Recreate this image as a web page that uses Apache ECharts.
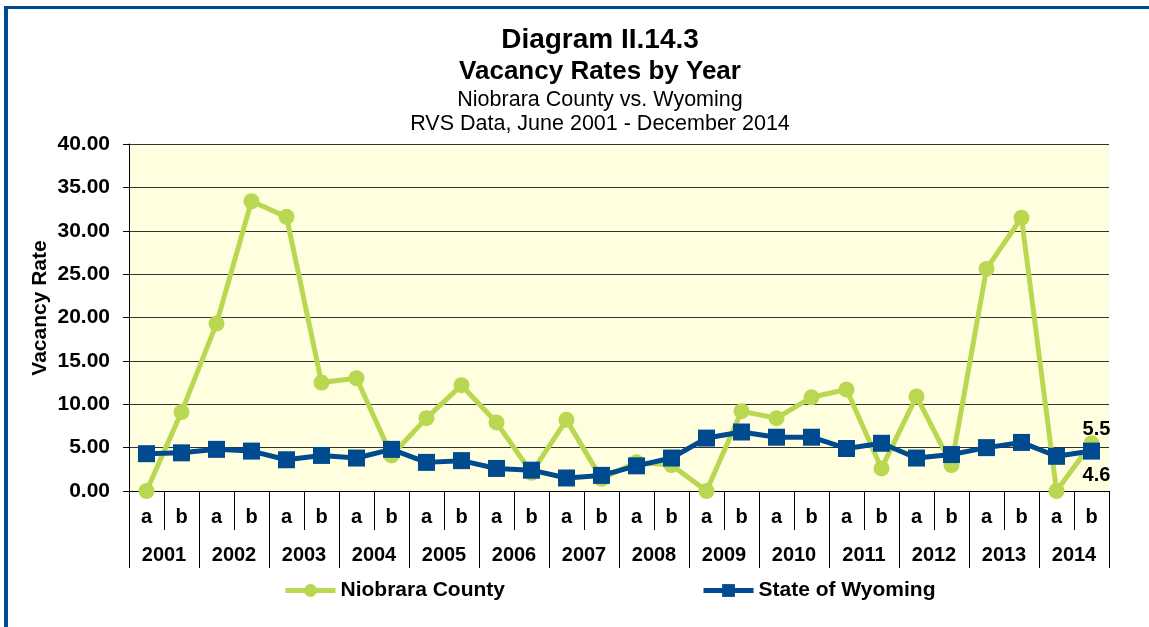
<!DOCTYPE html>
<html>
<head>
<meta charset="utf-8">
<script src="https://cdn.jsdelivr.net/npm/echarts@6/dist/echarts.min.js"></script>
<style>
  html, body { margin: 0; padding: 0; background: #fff; }
  #main { width: 1149px; height: 627px; }
</style>
</head>
<body>
<div id="main"></div>
<script>
// half-year categories, a/b per year
var halves = ['a','b','a','b','a','b','a','b','a','b','a','b','a','b',
              'a','b','a','b','a','b','a','b','a','b','a','b','a','b'];
var years = ['2001','2002','2003','2004','2005','2006','2007',
             '2008','2009','2010','2011','2012','2013','2014'];
var yTicks = [0, 5, 10, 15, 20, 25, 30, 35, 40];

var niobrara = [0.0, 9.1, 19.3, 33.4, 31.6, 12.5, 13.0, 4.1, 8.4, 12.2, 7.9, 2.1, 8.2, 1.4,
                3.3, 3.0, 0.0, 9.2, 8.4, 10.8, 11.7, 2.6, 10.9, 3.0, 25.6, 31.5, 0.0, 5.5];
var wyoming  = [4.3, 4.4, 4.8, 4.6, 3.6, 4.1, 3.8, 4.8, 3.3, 3.5, 2.6, 2.4, 1.5, 1.8,
                2.9, 3.8, 6.1, 6.8, 6.2, 6.2, 4.9, 5.5, 3.8, 4.2, 5.0, 5.6, 4.0, 4.6];

var green = '#B9D750';
var blue = '#004A8F';
var font = 'Arial, "Liberation Sans", sans-serif';

var chart = echarts.init(document.getElementById('main'));

function lastOnly(p) {
  return p.dataIndex === halves.length - 1 ? String(p.value) : '';
}

var option = {
  animation: false,
  textStyle: { fontFamily: font },
  graphic: [
    { type: 'rect', shape: { x: 4, y: 6, width: 1145, height: 3 }, style: { fill: blue } },
    { type: 'rect', shape: { x: 4, y: 6, width: 4, height: 621 }, style: { fill: blue } },
    { type: 'text', x: 600, y: 40, style: { text: 'Diagram II.14.3', fontSize: 28, fontWeight: 'bold', fontFamily: font, fill: '#000', align: 'center', verticalAlign: 'middle' } },
    { type: 'text', x: 600, y: 72, style: { text: 'Vacancy Rates by Year', fontSize: 26, fontWeight: 'bold', fontFamily: font, fill: '#000', align: 'center', verticalAlign: 'middle' } },
    { type: 'text', x: 600, y: 100, style: { text: 'Niobrara County vs. Wyoming', fontSize: 21.5, fontFamily: font, fill: '#000', align: 'center', verticalAlign: 'middle' } },
    { type: 'text', x: 600, y: 124, style: { text: 'RVS Data, June 2001 - December 2014', fontSize: 21.5, fontFamily: font, fill: '#000', align: 'center', verticalAlign: 'middle' } },
    { type: 'text', x: 40, y: 308, rotation: Math.PI / 2, style: { text: 'Vacancy Rate', fontSize: 21, fontWeight: 'bold', fontFamily: font, fill: '#000', align: 'center', verticalAlign: 'middle' } }
  ],
  legend: {
    left: 283,
    top: 580,
    padding: 0,
    itemWidth: 50,
    itemHeight: 16,
    itemGap: 196,
    lineStyle: { width: 5 },
    textStyle: { fontSize: 21, fontWeight: 'bold', color: '#000', fontFamily: font },
    data: ['Niobrara County', 'State of Wyoming']
  },
  grid: {
    left: 129,
    top: 144,
    width: 980,
    height: 347,
    show: true,
    backgroundColor: '#FFFFE0',
    borderWidth: 0
  },
  xAxis: [
    {
      type: 'category',
      data: halves,
      position: 'bottom',
      boundaryGap: true,
      axisLine: { lineStyle: { color: '#000', width: 1 } },
      axisTick: { show: true, interval: 0, length: 39, lineStyle: { color: '#000' } },
      axisLabel: { interval: 0, margin: 16, fontSize: 20, fontWeight: 'bold', color: '#000', fontFamily: font }
    },
    {
      type: 'category',
      data: years,
      position: 'bottom',
      boundaryGap: true,
      axisLine: { lineStyle: { color: '#000', width: 1 } },
      axisTick: { show: true, interval: 0, length: 77, lineStyle: { color: '#000' } },
      axisLabel: { interval: 0, margin: 54, fontSize: 20, fontWeight: 'bold', color: '#000', fontFamily: font }
    }
  ],
  yAxis: {
    type: 'value',
    min: yTicks[0],
    max: yTicks[yTicks.length - 1],
    interval: yTicks[1] - yTicks[0],
    axisLine: { show: true, lineStyle: { color: '#000', width: 1 } },
    axisTick: { show: true, length: 6, lineStyle: { color: '#000' } },
    axisLabel: {
      margin: 19, fontSize: 21, fontWeight: 'bold', color: '#000', fontFamily: font,
      formatter: function (v) { return v.toFixed(2); }
    },
    splitLine: { show: true, lineStyle: { color: '#333', width: 1 } }
  },
  series: [
    {
      name: 'Niobrara County',
      type: 'line',
      xAxisIndex: 0,
      data: niobrara,
      symbol: 'circle',
      symbolSize: 16,
      lineStyle: { color: green, width: 5 },
      itemStyle: { color: green },
      label: {
        show: true, position: 'top', distance: 0, offset: [5, 4],
        fontSize: 20, fontWeight: 'bold', color: '#000', fontFamily: font,
        formatter: lastOnly
      }
    },
    {
      name: 'State of Wyoming',
      type: 'line',
      xAxisIndex: 0,
      data: wyoming,
      symbol: 'rect',
      symbolSize: 17,
      lineStyle: { color: blue, width: 5 },
      itemStyle: { color: blue },
      label: {
        show: true, position: 'bottom', distance: 6, offset: [5, 0],
        fontSize: 20, fontWeight: 'bold', color: '#000', fontFamily: font,
        formatter: lastOnly
      }
    }
  ]
};

chart.setOption(option);
</script>
</body>
</html>
